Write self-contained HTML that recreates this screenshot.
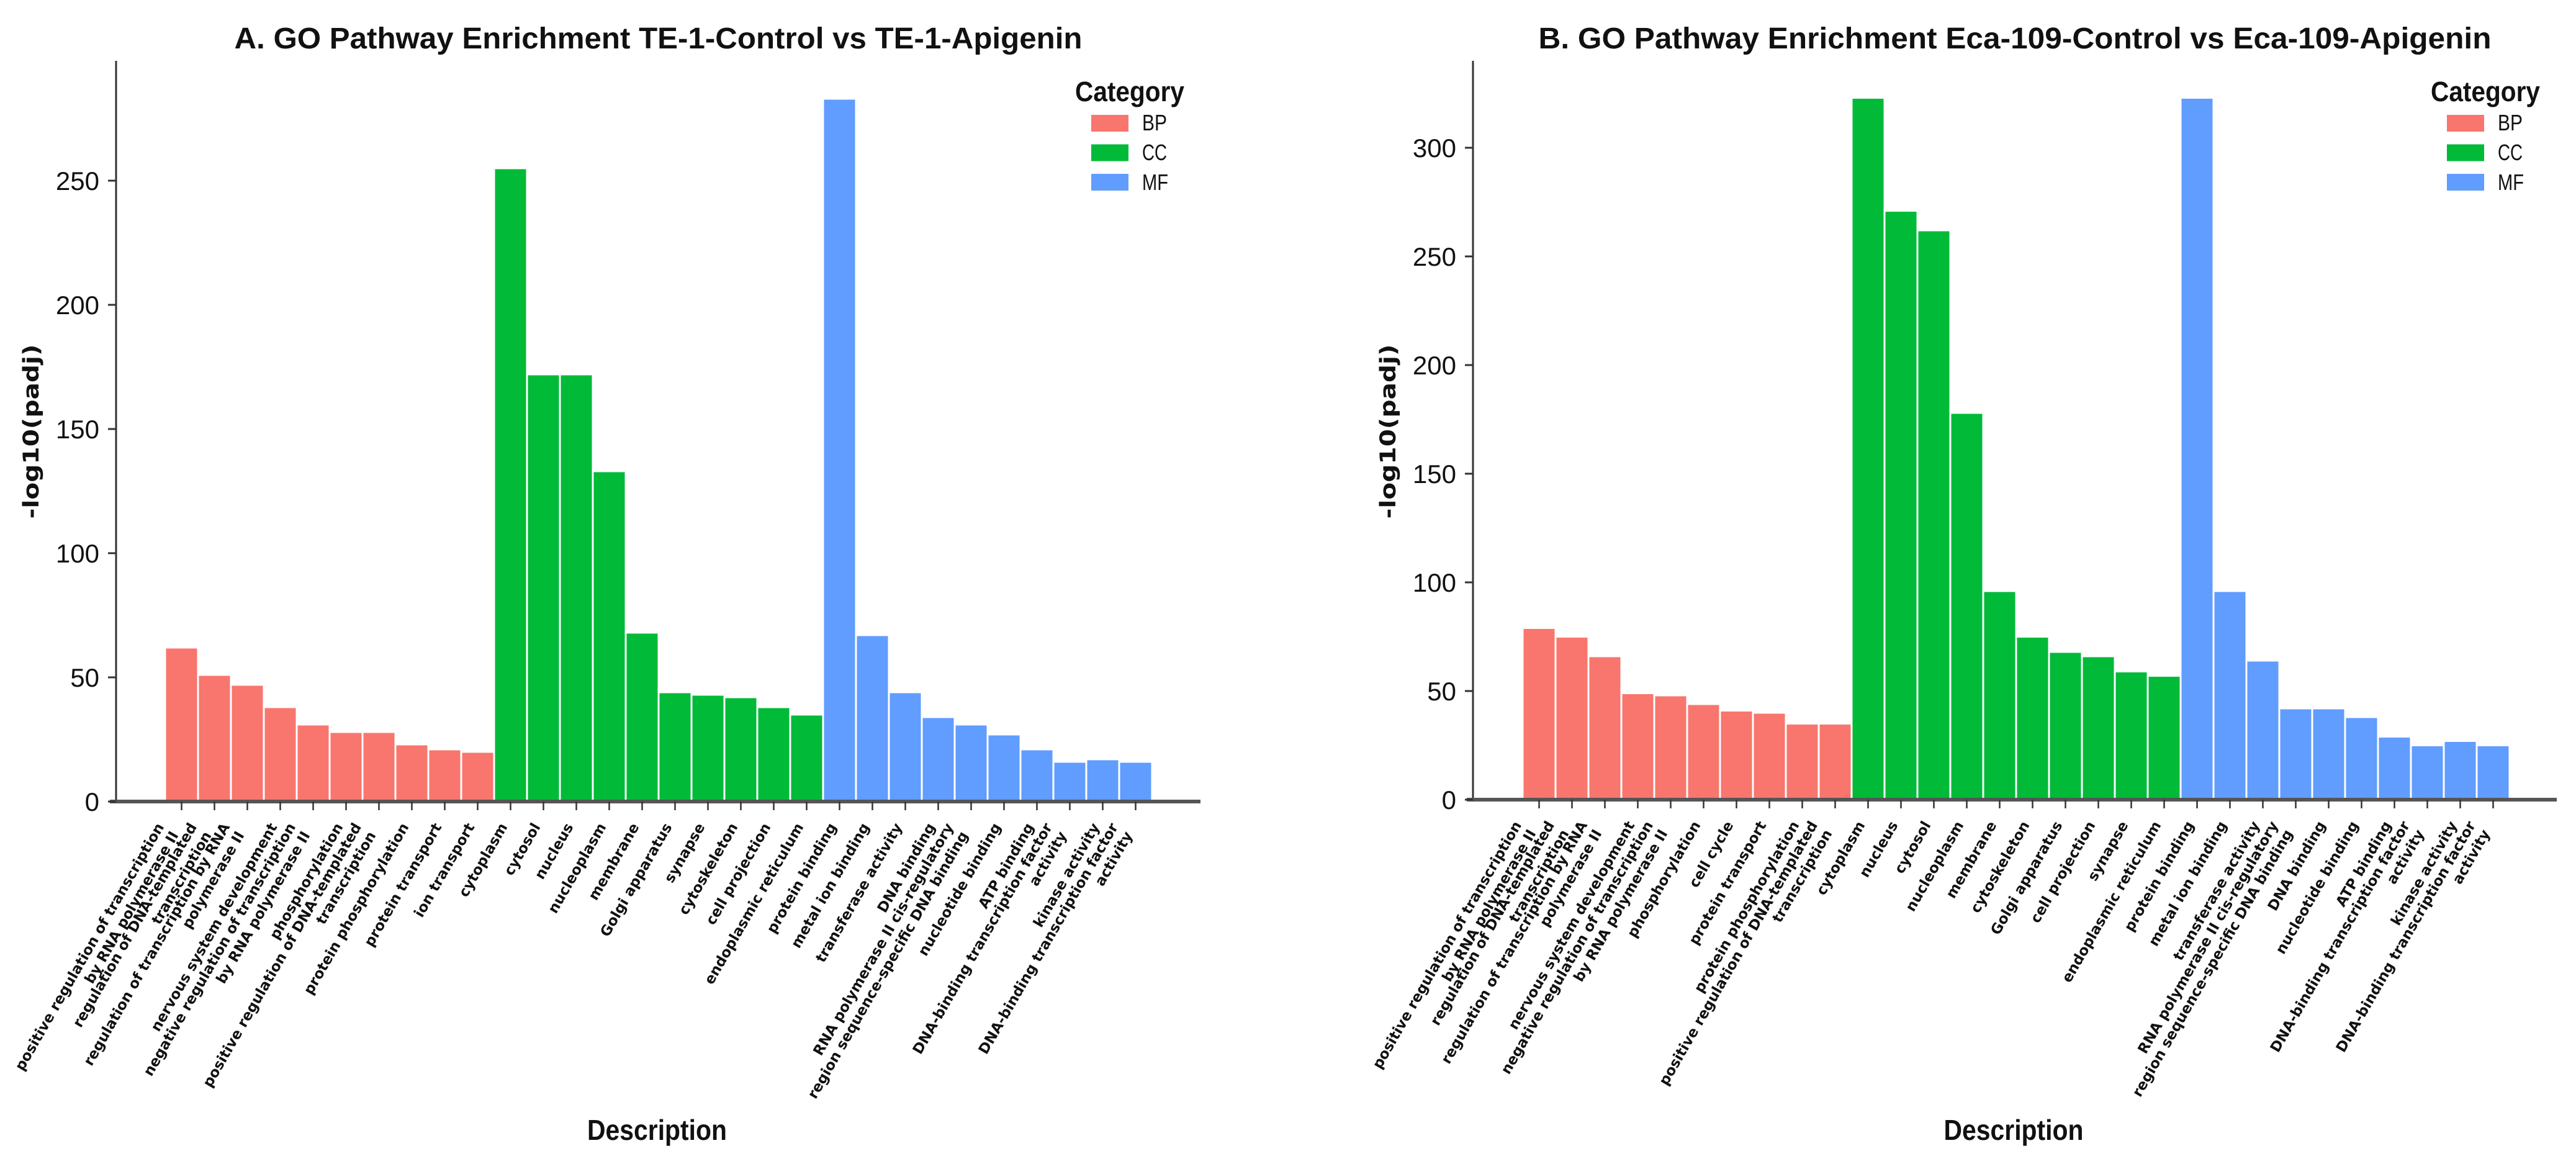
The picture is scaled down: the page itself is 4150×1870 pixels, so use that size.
<!DOCTYPE html>
<html><head><meta charset="utf-8"><style>
html,body{margin:0;padding:0;background:#fff;}
svg{display:block;}
</style></head><body>
<svg id="chart" width="4150" height="1870" viewBox="0 0 4150 1870" xmlns="http://www.w3.org/2000/svg"></svg>
<script>
// ----- Panel A data -----
const catsA = ["BP","BP","BP","BP","BP","BP","BP","BP","BP","BP","CC","CC","CC","CC","CC","CC","CC","CC","CC","CC","MF","MF","MF","MF","MF","MF","MF","MF","MF","MF"];
const labelsA = [
 "positive regulation of transcription\nby RNA polymerase II","regulation of DNA-templated\ntranscription","regulation of transcription by RNA\npolymerase II","nervous system development","negative regulation of transcription\nby RNA polymerase II","phosphorylation","positive regulation of DNA-templated\ntranscription","protein phosphorylation","protein transport","ion transport",
 "cytoplasm","cytosol","nucleus","nucleoplasm","membrane","Golgi apparatus","synapse","cytoskeleton","cell projection","endoplasmic reticulum",
 "protein binding","metal ion binding","transferase activity","DNA binding","RNA polymerase II cis-regulatory\nregion sequence-specific DNA binding","nucleotide binding","ATP binding","DNA-binding transcription factor\nactivity","kinase activity","DNA-binding transcription factor\nactivity"];
const valuesA = [62,51,47,38,31,28,28,23,21,20, 255,172,172,133,68,44,43,42,38,35, 283,67,44,34,31,27,21,16,17,16];
const ticksA = [0,50,100,150,200,250];
// ----- Panel B data -----
const catsB = catsA.slice();
const labelsB = [
 "positive regulation of transcription\nby RNA polymerase II","regulation of DNA-templated\ntranscription","regulation of transcription by RNA\npolymerase II","nervous system development","negative regulation of transcription\nby RNA polymerase II","phosphorylation","cell cycle","protein transport","protein phosphorylation","positive regulation of DNA-templated\ntranscription",
 "cytoplasm","nucleus","cytosol","nucleoplasm","membrane","cytoskeleton","Golgi apparatus","cell projection","synapse","endoplasmic reticulum",
 "protein binding","metal ion binding","transferase activity","RNA polymerase II cis-regulatory\nregion sequence-specific DNA binding","DNA binding","nucleotide binding","ATP binding","DNA-binding transcription factor\nactivity","kinase activity","DNA-binding transcription factor\nactivity"];
const valuesB = [79,75,66,49,48,44,41,40,35,35, 323,271,262,178,96,75,68,66,59,57, 323,96,64,42,42,38,29,25,27,25];
const ticksB = [0,50,100,150,200,250,300];
const legendCats = ["BP","CC","MF"];

const COLORS = {BP:"#F8766D", CC:"#00BA38", MF:"#619CFF"};
const NS = "http://www.w3.org/2000/svg";
const svg = document.getElementById('chart');
function mk(tag, attrs, parent){ const e=document.createElementNS(NS,tag); for(const k in attrs) e.setAttribute(k,attrs[k]); (parent||svg).appendChild(e); return e; }

function panel(cfg){
  const g = mk('g',{});
  
  
  const {axL, axR, axTop, zeroY, ppu, barL, slot} = cfg;
  const y = v => zeroY - v*ppu;
  const xc = i => barL + slot*(i+0.5);
  cfg.values.forEach((v,i)=>{
    const r = mk('rect',{x:xc(i)-slot/2, y:y(v), width:slot, height:zeroY-y(v), fill:COLORS[cfg.cats[i]], stroke:"#fff", "stroke-width":3}, g);
    
    
  });
  const ya = mk('line',{x1:axL, y1:axTop, x2:axL, y2:zeroY+2, stroke:"#333", "stroke-width":3}, g);
  
  
  const xa = mk('line',{x1:axL-10, y1:zeroY, x2:axR, y2:zeroY, stroke:"#555", "stroke-width":6}, g);
  
  
  cfg.ticks.forEach(t=>{
    mk('line',{x1:axL-13, y1:y(t), x2:axL, y2:y(t), stroke:"#333", "stroke-width":3}, g);
    const tx = mk('text',{x:axL-27, y:y(t)+15, "text-anchor":"end", "font-family":"Liberation Sans, DejaVu Sans, sans-serif", "font-size":42, fill:"#111"}, g);
    tx.textContent = t;
    
    
  });
  const fs=23, lh=27, asc=17, desc=5, c=Math.cos(Math.PI/3), s=Math.sin(Math.PI/3);
  cfg.labels.forEach((lab,i)=>{
    const x = xc(i);
    mk('line',{x1:x, y1:zeroY, x2:x, y2:zeroY+14, stroke:"#333", "stroke-width":2.5}, g);
    const lines = lab.split("\n"); const n = lines.length;
    const topY = zeroY + 32;
    const px = x - s*((n-1)*lh + desc);
    const py = topY + c*asc;
    const t = mk('text',{transform:`translate(${px},${py}) rotate(-60)`, "text-anchor":"end", "font-family":"DejaVu Sans, sans-serif", "font-weight":"bold", "font-size":fs, fill:"#111"}, g);
    
    
    lines.forEach((ln,k)=>{ const ts=mk('tspan',{x:0, y:k*lh}, t); ts.textContent=ln; });
  });
  const ti = mk('text',{x:(axL+axR)/2, y:78, "text-anchor":"middle", "font-family":"Liberation Sans, sans-serif", "font-weight":"bold", "font-size":48, textLength:cfg.titleW, lengthAdjust:"spacingAndGlyphs", fill:"#111"}, g);
  ti.textContent = cfg.title;
  
  
  const yt = mk('text',{transform:`translate(${cfg.ytX},695) rotate(-90)`, "text-anchor":"middle", "font-family":"DejaVu Sans, sans-serif", "font-weight":"bold", "font-size":35, textLength:281, lengthAdjust:"spacingAndGlyphs", fill:"#111"}, g);
  yt.textContent = "-log10(padj)";
  
  
  const xt = mk('text',{x:(axL+axR)/2-2, y:1836, "text-anchor":"middle", "font-family":"Liberation Sans, sans-serif", "font-weight":"bold", "font-size":46, textLength:225, lengthAdjust:"spacingAndGlyphs", fill:"#111"}, g);
  xt.textContent = "Description";
  
  
  const lg = mk('g',{}, g);
  
  
  const lt = mk('text',{x:cfg.legX, y:163, "font-family":"Liberation Sans, sans-serif", "font-weight":"bold", "font-size":45, textLength:176, lengthAdjust:"spacingAndGlyphs", fill:"#111"}, lg);
  lt.textContent = "Category";
  
  
  legendCats.forEach((k,j)=>{
    const e = mk('g',{}, lg);
    
    
    mk('rect',{x:cfg.legX+26, y:185+j*47.5, width:60, height:27, fill:COLORS[k]}, e);
    const et = mk('text',{x:cfg.legX+108, y:210+j*48, "font-family":"Liberation Sans, sans-serif", "font-size":36, textLength:k==="MF"?42:40, lengthAdjust:"spacingAndGlyphs", fill:"#111"}, e);
    et.textContent = k;
  });
}

panel({name:"panel-a", title:"A. GO Pathway Enrichment TE-1-Control vs TE-1-Apigenin", titleW:1366,
  cats:catsA, labels:labelsA, values:valuesA, ticks:ticksA,
  axL:187, axR:1934, axTop:98, zeroY:1291, ppu:4.0, barL:266, slot:53, ytX:62, legX:1732});
panel({name:"panel-b", title:"B. GO Pathway Enrichment Eca-109-Control vs Eca-109-Apigenin", titleW:1535,
  cats:catsB, labels:labelsB, values:valuesB, ticks:ticksB,
  axL:2373, axR:4119, axTop:98, zeroY:1288, ppu:3.5, barL:2453, slot:53, ytX:2248, legX:3916});
</script>
</body></html>
